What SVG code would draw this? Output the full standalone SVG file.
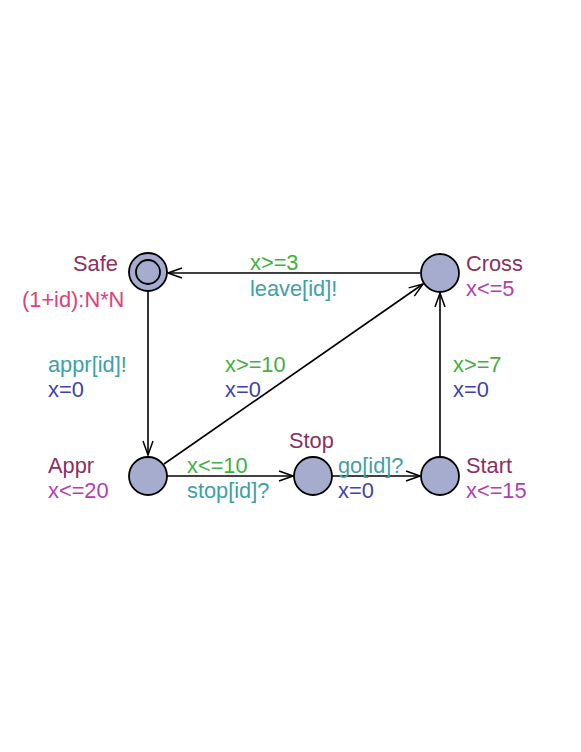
<svg xmlns="http://www.w3.org/2000/svg" width="581" height="752" viewBox="0 0 581 752">
<defs>
<marker id="arr" viewBox="0 0 16 12" refX="15" refY="6" markerWidth="16" markerHeight="12" markerUnits="userSpaceOnUse" orient="auto">
<path d="M1,1 L15,6 L1,11" fill="none" stroke="#000" stroke-width="1.5"/>
</marker>
<style>
text{font-family:"Liberation Sans",Arial,sans-serif;font-size:21.8px}
.loc{fill:#a6acce;stroke:#000;stroke-width:1.8}
.name{fill:#8c3060}
.inv{fill:#b040b0}
.grd{fill:#40b040}
.syn{fill:#40a0a8}
.upd{fill:#4040b0}
.cost{fill:#e0407a}
.edge{stroke:#000;stroke-width:1.6;fill:none;marker-end:url(#arr)}
</style>
</defs>
<rect width="581" height="752" fill="#fff"/>
<g id="connectors">
<line class="edge" x1="420" y1="273" x2="168" y2="273"/>
<line class="edge" x1="148" y1="291" x2="148" y2="455"/>
<line class="edge" x1="164" y1="464" x2="423" y2="284"/>
<line class="edge" x1="167" y1="476" x2="293" y2="476"/>
<line class="edge" x1="332" y1="476" x2="420" y2="476"/>
<line class="edge" x1="440" y1="457" x2="440" y2="293"/>
<text x="250" y="270" class="grd">x&gt;=3</text>
<text x="250" y="296" class="syn">leave[id]!</text>
<text x="48" y="372" class="syn">appr[id]!</text>
<text x="48" y="397" class="upd">x=0</text>
<text x="225" y="372" class="grd">x&gt;=10</text>
<text x="225" y="397" class="upd">x=0</text>
<text x="187" y="473" class="grd">x&lt;=10</text>
<text x="187" y="498" class="syn">stop[id]?</text>
<text x="338" y="473" class="syn">go[id]?</text>
<text x="338" y="498" class="upd">x=0</text>
<text x="453" y="372" class="grd">x&gt;=7</text>
<text x="453" y="397" class="upd">x=0</text>
</g>
<g id="Safe">
<circle class="loc" cx="148" cy="272" r="19"/>
<circle cx="148" cy="272" r="12" fill="none" stroke="#000" stroke-width="1.8"/>
<text x="73" y="271" class="name">Safe</text>
<text x="22" y="307" class="cost">(1+id):N*N</text>
</g>
<g id="Cross">
<circle class="loc" cx="440" cy="273" r="19"/>
<text x="466" y="271" class="name">Cross</text>
<text x="466" y="296" class="inv">x&lt;=5</text>
</g>
<g id="Appr">
<circle class="loc" cx="148" cy="476" r="19"/>
<text x="48" y="473" class="name">Appr</text>
<text x="48" y="498" class="inv">x&lt;=20</text>
</g>
<g id="Stop">
<circle class="loc" cx="313" cy="476" r="19"/>
<text x="289" y="448" class="name">Stop</text>
</g>
<g id="Start">
<circle class="loc" cx="440" cy="476" r="19"/>
<text x="466" y="473" class="name">Start</text>
<text x="466" y="498" class="inv">x&lt;=15</text>
</g>
</svg>
